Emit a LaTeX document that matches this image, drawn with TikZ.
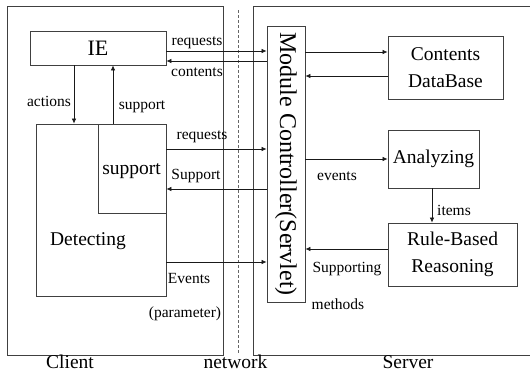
\documentclass[tikz,border=0pt]{standalone}
\usepackage{fontspec}
\setmainfont{Liberation Serif}
\usetikzlibrary{arrows.meta}
\tikzset{
  box/.style={draw=black!75, line width=0.8pt, inner sep=0pt},
  bigtext/.style={font=\fontsize{19.5}{27}\selectfont, inner sep=0pt, align=center},
  smalltext/.style={font=\fontsize{15.5}{18}\selectfont, inner sep=0pt},
  arr/.style={-{Latex[length=5pt,width=4.5pt]}, line width=0.7pt, black!90}
}
\begin{document}
\begin{tikzpicture}[x=1pt,y=-1pt]
\useasboundingbox (0,0) rectangle (530,383);
% client and server areas
\node[box, minimum width=216, minimum height=349] (client) at (115,180.5) {};
\draw[black!75, line width=0.8pt] (535,6) -- (253,6) -- (253,355) -- (535,355);
\draw[dashed, dash pattern=on 3pt off 2pt, black!60, line width=0.6pt] (238,10) -- (238,354);
% client side
\node[box, minimum width=136, minimum height=34] (ie) at (98,48) {};
\node[bigtext, font=\fontsize{22}{27}\selectfont] at (ie) {IE};
\node[box, minimum width=130, minimum height=172] (det) at (101,210) {};
\node[box, minimum width=68, minimum height=89] (sup) at (132,168.5) {};
\node[bigtext] (suptext) at (131.5,171) {support};
\node[bigtext] (dettext) at (88,241) {Detecting};
% controller
\node[font=\fontsize{24}{28}\selectfont, rotate=-90, inner sep=0pt] (mctext) at (286,164) {Module Controller(Servlet)};
\node[box, minimum width=38, minimum height=276] (mc) at (286,164) {};
% server side
\node[box, minimum width=115, minimum height=63] (cdb) at (445.5,67.5) {};
\node[bigtext] at (cdb) {Contents\\DataBase};
\node[box, minimum width=91, minimum height=58] (ana) at (433.5,159) {};
\node[bigtext] at (ana) {Analyzing};
\node[box, minimum width=129, minimum height=63] (rbr) at (452.5,254.5) {};
\node[bigtext] at (rbr) {Rule-Based\\Reasoning};
% connectors
\draw[arr] (ie.east |- 0,51) -- (mc.west |- 0,51);
\draw[arr] (mc.west |- 0,61) -- (ie.east |- 0,61);
\draw[arr] (ie.south -| 74,0) -- (det.north -| 74,0);
\draw[arr] (det.north -| 113,0) -- (ie.south -| 113,0);
\draw[arr] (det.east |- 0,149) -- (mc.west |- 0,149);
\draw[arr] (mc.west |- 0,189) -- (sup.east |- 0,189);
\draw[arr] (det.east |- 0,262) -- (mc.west |- 0,262);
\draw[arr] (mc.east |- 0,52) -- (cdb.west |- 0,52);
\draw[arr] (cdb.west |- 0,76) -- (mc.east |- 0,76);
\draw[arr] (mc.east |- ana.west) -- (ana.west);
\draw[arr] (ana.south -| 432,0) -- (rbr.north -| 432,0);
\draw[arr] (rbr.west |- 0,249) -- (mc.east |- 0,249);
% labels
\node[smalltext] at (197,43) {requests};
\node[smalltext] at (197,72) {contents};
\node[smalltext] at (49,101) {actions};
\node[smalltext] at (142,107) {support};
\node[smalltext] at (202,137) {requests};
\node[smalltext] at (196,176) {Support};
\node[smalltext] at (189,278) {Events};
\node[smalltext] at (185,314) {(parameter)};
\node[smalltext] at (337,176) {events};
\node[smalltext] at (454,210) {items};
\node[smalltext] at (347,269) {Supporting};
\node[smalltext] at (338,304) {methods};
\node[bigtext] at (70,362) {Client};
\node[bigtext] at (235.5,362) {network};
\node[bigtext] at (408,362) {Server};
\end{tikzpicture}
\end{document}
